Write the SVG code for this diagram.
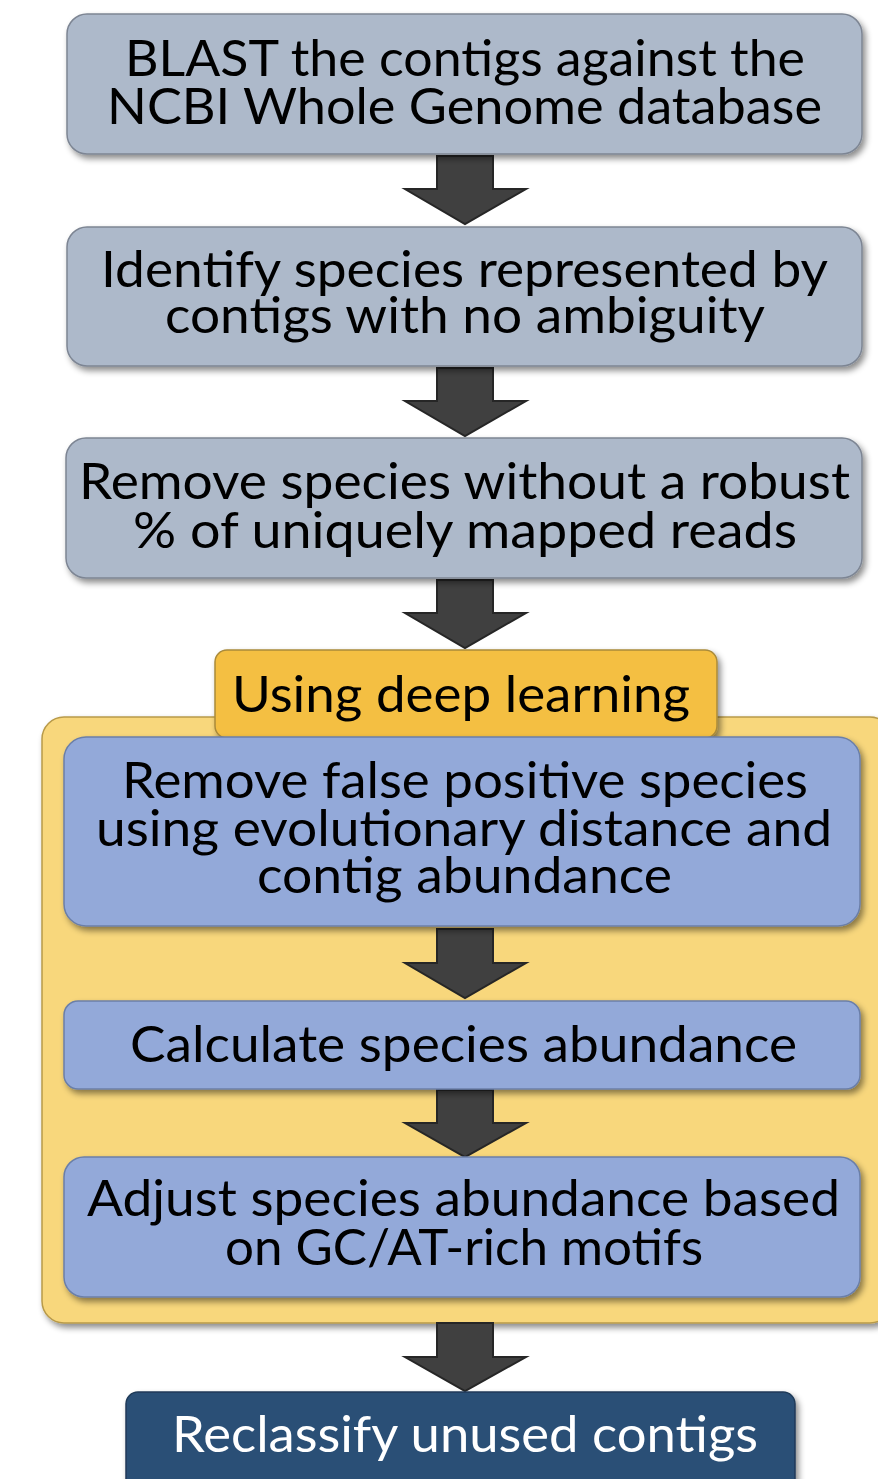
<svg xmlns="http://www.w3.org/2000/svg" width="878" height="1479" viewBox="0 0 878 1479">
<defs>
<filter id="sh" x="-10%" y="-10%" width="125%" height="130%">
<feDropShadow dx="3" dy="4" stdDeviation="3" flood-color="#000" flood-opacity="0.45"/>
</filter>
<style>
.grey{fill:#adb9ca;stroke:#7d8593;stroke-width:1.5;filter:url(#sh)}
.blue{fill:#93a9d9;stroke:#6b7fa8;stroke-width:1.5;filter:url(#sh)}
.cont{fill:#f8d77b;stroke:#b89a4a;stroke-width:1.5;filter:url(#sh)}
.lab{fill:#f4bf42;stroke:#a98a3a;stroke-width:1.5;filter:url(#sh)}
.dark{fill:#2c4f76;stroke:#1f3a58;stroke-width:1.5;filter:url(#sh)}
.arr{fill:#404040;stroke:#262626;stroke-width:2;stroke-linejoin:miter}
text{font-family:Lato,"Open Sans","Liberation Sans",sans-serif;font-size:51px;fill:#000;text-anchor:middle}
.w{fill:#fff}
</style>
</defs>
<rect width="878" height="1479" fill="#fff"/>

<g id="group">
<rect class="cont" x="42" y="717" width="850" height="606" rx="22"/>
</g>

<g id="connectors">
<path class="arr" d="M437,156 H493 V189 H526 L465,224 L405,189 H437 Z"/>
<path class="arr" d="M437,368 H493 V401 H526 L465,436 L405,401 H437 Z"/>
<path class="arr" d="M437,580 H493 V613 H526 L465,648 L405,613 H437 Z"/>
<path class="arr" d="M437,929 H493 V963 H526 L465,998 L405,963 H437 Z"/>
<path class="arr" d="M437,1090 H493 V1123 H526 L465,1157 L405,1123 H437 Z"/>
<path class="arr" d="M437,1323 H493 V1357 H526 L465,1391 L405,1357 H437 Z"/>
</g>

<g id="n1">
<rect class="grey" x="67" y="14" width="795" height="140" rx="20"/>
<text x="465" y="76" textLength="680" lengthAdjust="spacingAndGlyphs">BLAST the contigs against the</text>
<text x="464.5" y="124" textLength="715" lengthAdjust="spacingAndGlyphs">NCBI Whole Genome database</text>
</g>

<g id="n2">
<rect class="grey" x="67" y="227" width="795" height="139" rx="20"/>
<text x="464.5" y="287" textLength="727" lengthAdjust="spacingAndGlyphs">Identify species represented by</text>
<text x="465" y="333" textLength="600" lengthAdjust="spacingAndGlyphs">contigs with no ambiguity</text>
</g>

<g id="n3">
<rect class="grey" x="66" y="438" width="796" height="140" rx="20"/>
<text x="464.5" y="499" textLength="771" lengthAdjust="spacingAndGlyphs">Remove species without a robust</text>
<text x="465" y="548" textLength="664" lengthAdjust="spacingAndGlyphs">% of uniquely mapped reads</text>
</g>

<g id="label">
<rect class="lab" x="215" y="650" width="502" height="88" rx="12"/>
<text x="461" y="712" textLength="458" lengthAdjust="spacingAndGlyphs">Using deep learning</text>
</g>

<g id="n4">
<rect class="blue" x="64" y="737" width="796" height="189" rx="22"/>
<text x="465" y="798" textLength="686" lengthAdjust="spacingAndGlyphs">Remove false positive species</text>
<text x="464" y="846" textLength="736" lengthAdjust="spacingAndGlyphs">using evolutionary distance and</text>
<text x="464.5" y="893" textLength="415" lengthAdjust="spacingAndGlyphs">contig abundance</text>
</g>

<g id="n5">
<rect class="blue" x="64" y="1001" width="796" height="88" rx="14"/>
<text x="463.5" y="1062" textLength="667" lengthAdjust="spacingAndGlyphs">Calculate species abundance</text>
</g>

<g id="n6">
<rect class="blue" x="64" y="1157" width="796" height="140" rx="20"/>
<text x="463.5" y="1216" textLength="753" lengthAdjust="spacingAndGlyphs">Adjust species abundance based</text>
<text x="464" y="1265" textLength="478" lengthAdjust="spacingAndGlyphs">on GC/AT-rich motifs</text>
</g>

<g id="n7">
<rect class="dark" x="126" y="1392" width="669" height="100" rx="12"/>
<text class="w" x="465" y="1452" textLength="586" lengthAdjust="spacingAndGlyphs">Reclassify unused contigs</text>
</g>
</svg>
